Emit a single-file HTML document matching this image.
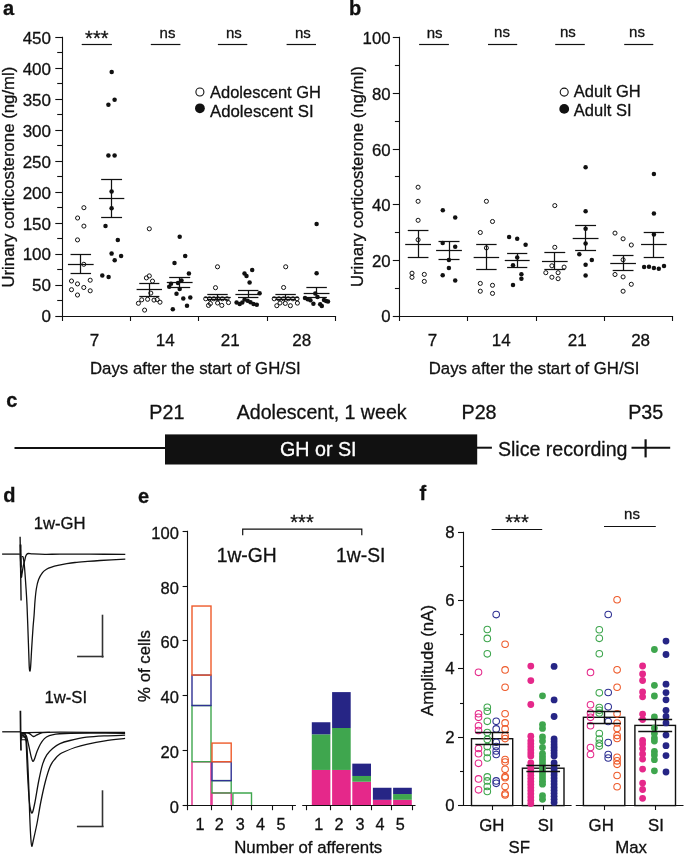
<!DOCTYPE html>
<html><head><meta charset="utf-8"><style>
html,body{margin:0;padding:0;background:#fff;}
svg{display:block;font-family:"Liberation Sans", sans-serif;will-change:transform;}
text{stroke-width:0.3px;}
</style></head><body>
<svg width="685" height="855" viewBox="0 0 685 855">
<rect width="685" height="855" fill="#fff"/>
<text x="3.00" y="14.80" font-size="20" text-anchor="start" font-weight="bold" fill="#111" stroke="#111">a</text>
<text x="349.00" y="14.90" font-size="20" text-anchor="start" font-weight="bold" fill="#111" stroke="#111">b</text>
<text x="6.30" y="407.00" font-size="20" text-anchor="start" font-weight="bold" fill="#111" stroke="#111">c</text>
<text x="3.20" y="502.20" font-size="20" text-anchor="start" font-weight="bold" fill="#111" stroke="#111">d</text>
<text x="138.00" y="502.80" font-size="20" text-anchor="start" font-weight="bold" fill="#111" stroke="#111">e</text>
<text x="419.60" y="499.80" font-size="20" text-anchor="start" font-weight="bold" fill="#111" stroke="#111">f</text>
<line x1="62.50" y1="36.80" x2="62.50" y2="317.00" stroke="#111" stroke-width="1.1"/>
<line x1="55.30" y1="316.50" x2="62.00" y2="316.50" stroke="#111" stroke-width="1.1"/>
<text x="51.00" y="322.20" font-size="17" text-anchor="end" font-weight="normal" fill="#111" stroke="#111">0</text>
<line x1="55.30" y1="285.50" x2="62.00" y2="285.50" stroke="#111" stroke-width="1.1"/>
<text x="51.00" y="291.33" font-size="17" text-anchor="end" font-weight="normal" fill="#111" stroke="#111">50</text>
<line x1="55.30" y1="254.50" x2="62.00" y2="254.50" stroke="#111" stroke-width="1.1"/>
<text x="51.00" y="260.46" font-size="17" text-anchor="end" font-weight="normal" fill="#111" stroke="#111">100</text>
<line x1="55.30" y1="223.50" x2="62.00" y2="223.50" stroke="#111" stroke-width="1.1"/>
<text x="51.00" y="229.59" font-size="17" text-anchor="end" font-weight="normal" fill="#111" stroke="#111">150</text>
<line x1="55.30" y1="192.50" x2="62.00" y2="192.50" stroke="#111" stroke-width="1.1"/>
<text x="51.00" y="198.72" font-size="17" text-anchor="end" font-weight="normal" fill="#111" stroke="#111">200</text>
<line x1="55.30" y1="161.50" x2="62.00" y2="161.50" stroke="#111" stroke-width="1.1"/>
<text x="51.00" y="167.85" font-size="17" text-anchor="end" font-weight="normal" fill="#111" stroke="#111">250</text>
<line x1="55.30" y1="130.50" x2="62.00" y2="130.50" stroke="#111" stroke-width="1.1"/>
<text x="51.00" y="136.98" font-size="17" text-anchor="end" font-weight="normal" fill="#111" stroke="#111">300</text>
<line x1="55.30" y1="99.50" x2="62.00" y2="99.50" stroke="#111" stroke-width="1.1"/>
<text x="51.00" y="106.11" font-size="17" text-anchor="end" font-weight="normal" fill="#111" stroke="#111">350</text>
<line x1="55.30" y1="68.50" x2="62.00" y2="68.50" stroke="#111" stroke-width="1.1"/>
<text x="51.00" y="75.24" font-size="17" text-anchor="end" font-weight="normal" fill="#111" stroke="#111">400</text>
<line x1="55.30" y1="37.50" x2="62.00" y2="37.50" stroke="#111" stroke-width="1.1"/>
<text x="51.00" y="44.37" font-size="17" text-anchor="end" font-weight="normal" fill="#111" stroke="#111">450</text>
<line x1="57.20" y1="300.50" x2="62.00" y2="300.50" stroke="#111" stroke-width="1.1"/>
<line x1="57.20" y1="269.50" x2="62.00" y2="269.50" stroke="#111" stroke-width="1.1"/>
<line x1="57.20" y1="238.50" x2="62.00" y2="238.50" stroke="#111" stroke-width="1.1"/>
<line x1="57.20" y1="207.50" x2="62.00" y2="207.50" stroke="#111" stroke-width="1.1"/>
<line x1="57.20" y1="176.50" x2="62.00" y2="176.50" stroke="#111" stroke-width="1.1"/>
<line x1="57.20" y1="145.50" x2="62.00" y2="145.50" stroke="#111" stroke-width="1.1"/>
<line x1="57.20" y1="114.50" x2="62.00" y2="114.50" stroke="#111" stroke-width="1.1"/>
<line x1="57.20" y1="83.50" x2="62.00" y2="83.50" stroke="#111" stroke-width="1.1"/>
<line x1="57.20" y1="52.50" x2="62.00" y2="52.50" stroke="#111" stroke-width="1.1"/>
<line x1="61.50" y1="316.50" x2="336.10" y2="316.50" stroke="#111" stroke-width="1.1"/>
<line x1="62.50" y1="316.50" x2="62.50" y2="321.00" stroke="#111" stroke-width="1.1"/>
<line x1="130.50" y1="316.50" x2="130.50" y2="321.00" stroke="#111" stroke-width="1.1"/>
<line x1="198.50" y1="316.50" x2="198.50" y2="321.00" stroke="#111" stroke-width="1.1"/>
<line x1="267.50" y1="316.50" x2="267.50" y2="321.00" stroke="#111" stroke-width="1.1"/>
<line x1="335.50" y1="316.50" x2="335.50" y2="321.00" stroke="#111" stroke-width="1.1"/>
<text x="94.60" y="346.40" font-size="17" text-anchor="middle" font-weight="normal" fill="#111" stroke="#111">7</text>
<text x="165.20" y="346.40" font-size="17" text-anchor="middle" font-weight="normal" fill="#111" stroke="#111">14</text>
<text x="230.20" y="346.40" font-size="17" text-anchor="middle" font-weight="normal" fill="#111" stroke="#111">21</text>
<text x="301.70" y="346.40" font-size="17" text-anchor="middle" font-weight="normal" fill="#111" stroke="#111">28</text>
<text x="90.00" y="374.00" font-size="16.8" text-anchor="start" font-weight="normal" fill="#111" stroke="#111">Days after the start of GH/SI</text>
<text transform="translate(13.60,177.10) rotate(-90)" x="0" y="0" font-size="16.8" text-anchor="middle" fill="#111" stroke="#111">Urinary corticosterone (ng/ml)</text>
<line x1="81.70" y1="44.50" x2="111.90" y2="44.50" stroke="#111" stroke-width="1.2"/>
<line x1="150.80" y1="44.50" x2="180.40" y2="44.50" stroke="#111" stroke-width="1.2"/>
<line x1="217.90" y1="44.50" x2="247.30" y2="44.50" stroke="#111" stroke-width="1.2"/>
<line x1="286.60" y1="44.50" x2="316.00" y2="44.50" stroke="#111" stroke-width="1.2"/>
<text x="96.80" y="44.60" font-size="20" text-anchor="middle" font-weight="normal" fill="#111" stroke="#111">***</text>
<text x="167.50" y="38.00" font-size="15" text-anchor="middle" font-weight="normal" fill="#111" stroke="#111">ns</text>
<text x="233.90" y="38.00" font-size="15" text-anchor="middle" font-weight="normal" fill="#111" stroke="#111">ns</text>
<text x="302.90" y="38.00" font-size="15" text-anchor="middle" font-weight="normal" fill="#111" stroke="#111">ns</text>
<circle cx="199.90" cy="92.00" r="4.0" fill="none" stroke="#111" stroke-width="1.1"/>
<circle cx="199.90" cy="108.30" r="4.9" fill="#111"/>
<text x="210.00" y="97.50" font-size="16.5" text-anchor="start" font-weight="normal" fill="#111" stroke="#111">Adolescent GH</text>
<text x="210.00" y="117.00" font-size="16.8" text-anchor="start" font-weight="normal" fill="#111" stroke="#111">Adolescent SI</text>
<circle cx="83.90" cy="207.70" r="2.05" fill="none" stroke="#111" stroke-width="1.0"/>
<circle cx="77.60" cy="218.00" r="2.05" fill="none" stroke="#111" stroke-width="1.0"/>
<circle cx="83.90" cy="226.10" r="2.05" fill="none" stroke="#111" stroke-width="1.0"/>
<circle cx="77.50" cy="239.90" r="2.05" fill="none" stroke="#111" stroke-width="1.0"/>
<circle cx="83.80" cy="264.30" r="2.05" fill="none" stroke="#111" stroke-width="1.0"/>
<circle cx="71.50" cy="281.00" r="2.05" fill="none" stroke="#111" stroke-width="1.0"/>
<circle cx="90.20" cy="280.20" r="2.05" fill="none" stroke="#111" stroke-width="1.0"/>
<circle cx="77.50" cy="283.90" r="2.05" fill="none" stroke="#111" stroke-width="1.0"/>
<circle cx="83.80" cy="287.50" r="2.05" fill="none" stroke="#111" stroke-width="1.0"/>
<circle cx="71.50" cy="289.70" r="2.05" fill="none" stroke="#111" stroke-width="1.0"/>
<circle cx="90.20" cy="290.80" r="2.05" fill="none" stroke="#111" stroke-width="1.0"/>
<circle cx="77.50" cy="295.00" r="2.05" fill="none" stroke="#111" stroke-width="1.0"/>
<circle cx="149.30" cy="228.80" r="2.05" fill="none" stroke="#111" stroke-width="1.0"/>
<circle cx="149.30" cy="275.90" r="2.05" fill="none" stroke="#111" stroke-width="1.0"/>
<circle cx="146.40" cy="277.90" r="2.05" fill="none" stroke="#111" stroke-width="1.0"/>
<circle cx="152.50" cy="281.10" r="2.05" fill="none" stroke="#111" stroke-width="1.0"/>
<circle cx="150.80" cy="293.10" r="2.05" fill="none" stroke="#111" stroke-width="1.0"/>
<circle cx="141.70" cy="299.80" r="2.05" fill="none" stroke="#111" stroke-width="1.0"/>
<circle cx="147.60" cy="299.30" r="2.05" fill="none" stroke="#111" stroke-width="1.0"/>
<circle cx="154.00" cy="300.10" r="2.05" fill="none" stroke="#111" stroke-width="1.0"/>
<circle cx="157.20" cy="299.50" r="2.05" fill="none" stroke="#111" stroke-width="1.0"/>
<circle cx="138.40" cy="303.30" r="2.05" fill="none" stroke="#111" stroke-width="1.0"/>
<circle cx="160.00" cy="302.20" r="2.05" fill="none" stroke="#111" stroke-width="1.0"/>
<circle cx="144.60" cy="310.10" r="2.05" fill="none" stroke="#111" stroke-width="1.0"/>
<circle cx="217.50" cy="266.80" r="2.05" fill="none" stroke="#111" stroke-width="1.0"/>
<circle cx="215.50" cy="287.70" r="2.05" fill="none" stroke="#111" stroke-width="1.0"/>
<circle cx="205.70" cy="298.80" r="2.05" fill="none" stroke="#111" stroke-width="1.0"/>
<circle cx="209.50" cy="298.80" r="2.05" fill="none" stroke="#111" stroke-width="1.0"/>
<circle cx="213.80" cy="298.80" r="2.05" fill="none" stroke="#111" stroke-width="1.0"/>
<circle cx="218.00" cy="298.80" r="2.05" fill="none" stroke="#111" stroke-width="1.0"/>
<circle cx="222.30" cy="298.80" r="2.05" fill="none" stroke="#111" stroke-width="1.0"/>
<circle cx="227.00" cy="298.80" r="2.05" fill="none" stroke="#111" stroke-width="1.0"/>
<circle cx="208.50" cy="305.40" r="2.05" fill="none" stroke="#111" stroke-width="1.0"/>
<circle cx="210.40" cy="303.50" r="2.05" fill="none" stroke="#111" stroke-width="1.0"/>
<circle cx="217.60" cy="303.00" r="2.05" fill="none" stroke="#111" stroke-width="1.0"/>
<circle cx="221.80" cy="305.40" r="2.05" fill="none" stroke="#111" stroke-width="1.0"/>
<circle cx="228.50" cy="302.60" r="2.05" fill="none" stroke="#111" stroke-width="1.0"/>
<circle cx="285.70" cy="266.80" r="2.05" fill="none" stroke="#111" stroke-width="1.0"/>
<circle cx="283.60" cy="287.50" r="2.05" fill="none" stroke="#111" stroke-width="1.0"/>
<circle cx="274.20" cy="298.80" r="2.05" fill="none" stroke="#111" stroke-width="1.0"/>
<circle cx="278.90" cy="298.80" r="2.05" fill="none" stroke="#111" stroke-width="1.0"/>
<circle cx="283.60" cy="298.80" r="2.05" fill="none" stroke="#111" stroke-width="1.0"/>
<circle cx="288.20" cy="298.80" r="2.05" fill="none" stroke="#111" stroke-width="1.0"/>
<circle cx="292.90" cy="298.80" r="2.05" fill="none" stroke="#111" stroke-width="1.0"/>
<circle cx="297.00" cy="298.80" r="2.05" fill="none" stroke="#111" stroke-width="1.0"/>
<circle cx="276.80" cy="305.70" r="2.05" fill="none" stroke="#111" stroke-width="1.0"/>
<circle cx="285.30" cy="303.40" r="2.05" fill="none" stroke="#111" stroke-width="1.0"/>
<circle cx="290.40" cy="305.70" r="2.05" fill="none" stroke="#111" stroke-width="1.0"/>
<circle cx="297.40" cy="303.10" r="2.05" fill="none" stroke="#111" stroke-width="1.0"/>
<circle cx="280.00" cy="303.00" r="2.05" fill="none" stroke="#111" stroke-width="1.0"/>
<circle cx="111.70" cy="72.00" r="2.25" fill="#111"/>
<circle cx="108.40" cy="104.70" r="2.25" fill="#111"/>
<circle cx="114.60" cy="99.70" r="2.25" fill="#111"/>
<circle cx="108.40" cy="155.60" r="2.25" fill="#111"/>
<circle cx="114.60" cy="155.60" r="2.25" fill="#111"/>
<circle cx="111.60" cy="191.50" r="2.25" fill="#111"/>
<circle cx="111.60" cy="208.30" r="2.25" fill="#111"/>
<circle cx="105.50" cy="225.90" r="2.25" fill="#111"/>
<circle cx="117.80" cy="240.10" r="2.25" fill="#111"/>
<circle cx="111.60" cy="253.60" r="2.25" fill="#111"/>
<circle cx="121.10" cy="256.10" r="2.25" fill="#111"/>
<circle cx="114.70" cy="260.20" r="2.25" fill="#111"/>
<circle cx="102.30" cy="275.40" r="2.25" fill="#111"/>
<circle cx="108.60" cy="276.90" r="2.25" fill="#111"/>
<circle cx="179.70" cy="236.70" r="2.25" fill="#111"/>
<circle cx="185.20" cy="255.90" r="2.25" fill="#111"/>
<circle cx="174.50" cy="263.00" r="2.25" fill="#111"/>
<circle cx="188.90" cy="273.50" r="2.25" fill="#111"/>
<circle cx="181.50" cy="280.60" r="2.25" fill="#111"/>
<circle cx="171.00" cy="283.70" r="2.25" fill="#111"/>
<circle cx="178.00" cy="282.90" r="2.25" fill="#111"/>
<circle cx="169.20" cy="286.70" r="2.25" fill="#111"/>
<circle cx="179.70" cy="289.00" r="2.25" fill="#111"/>
<circle cx="176.50" cy="293.70" r="2.25" fill="#111"/>
<circle cx="183.30" cy="298.40" r="2.25" fill="#111"/>
<circle cx="190.30" cy="297.50" r="2.25" fill="#111"/>
<circle cx="187.00" cy="305.70" r="2.25" fill="#111"/>
<circle cx="172.80" cy="309.20" r="2.25" fill="#111"/>
<circle cx="252.20" cy="269.90" r="2.25" fill="#111"/>
<circle cx="244.50" cy="273.50" r="2.25" fill="#111"/>
<circle cx="246.50" cy="276.00" r="2.25" fill="#111"/>
<circle cx="249.60" cy="282.50" r="2.25" fill="#111"/>
<circle cx="259.60" cy="293.20" r="2.25" fill="#111"/>
<circle cx="236.60" cy="302.40" r="2.25" fill="#111"/>
<circle cx="239.70" cy="304.00" r="2.25" fill="#111"/>
<circle cx="242.30" cy="302.60" r="2.25" fill="#111"/>
<circle cx="244.60" cy="299.50" r="2.25" fill="#111"/>
<circle cx="247.60" cy="300.80" r="2.25" fill="#111"/>
<circle cx="250.50" cy="302.30" r="2.25" fill="#111"/>
<circle cx="253.50" cy="304.00" r="2.25" fill="#111"/>
<circle cx="256.80" cy="304.80" r="2.25" fill="#111"/>
<circle cx="316.60" cy="224.10" r="2.25" fill="#111"/>
<circle cx="316.60" cy="273.30" r="2.25" fill="#111"/>
<circle cx="305.00" cy="298.10" r="2.25" fill="#111"/>
<circle cx="307.70" cy="299.20" r="2.25" fill="#111"/>
<circle cx="310.40" cy="300.30" r="2.25" fill="#111"/>
<circle cx="313.40" cy="303.80" r="2.25" fill="#111"/>
<circle cx="315.30" cy="293.50" r="2.25" fill="#111"/>
<circle cx="317.50" cy="297.00" r="2.25" fill="#111"/>
<circle cx="320.20" cy="304.30" r="2.25" fill="#111"/>
<circle cx="321.80" cy="306.00" r="2.25" fill="#111"/>
<circle cx="324.00" cy="300.00" r="2.25" fill="#111"/>
<circle cx="326.10" cy="301.10" r="2.25" fill="#111"/>
<circle cx="328.00" cy="301.40" r="2.25" fill="#111"/>
<line x1="67.95" y1="264.50" x2="93.65" y2="264.50" stroke="#111" stroke-width="1.25"/>
<line x1="70.55" y1="254.50" x2="91.05" y2="254.50" stroke="#111" stroke-width="1.25"/>
<line x1="70.55" y1="273.50" x2="91.05" y2="273.50" stroke="#111" stroke-width="1.25"/>
<line x1="80.50" y1="254.50" x2="80.50" y2="273.30" stroke="#111" stroke-width="1.25"/>
<line x1="98.90" y1="198.50" x2="124.30" y2="198.50" stroke="#111" stroke-width="1.25"/>
<line x1="101.15" y1="179.50" x2="122.05" y2="179.50" stroke="#111" stroke-width="1.25"/>
<line x1="101.15" y1="217.50" x2="122.05" y2="217.50" stroke="#111" stroke-width="1.25"/>
<line x1="111.50" y1="179.80" x2="111.50" y2="217.00" stroke="#111" stroke-width="1.25"/>
<line x1="136.60" y1="289.50" x2="162.00" y2="289.50" stroke="#111" stroke-width="1.25"/>
<line x1="139.25" y1="283.50" x2="159.35" y2="283.50" stroke="#111" stroke-width="1.25"/>
<line x1="139.25" y1="296.50" x2="159.35" y2="296.50" stroke="#111" stroke-width="1.25"/>
<line x1="149.50" y1="283.20" x2="149.50" y2="296.00" stroke="#111" stroke-width="1.25"/>
<line x1="166.80" y1="282.50" x2="192.60" y2="282.50" stroke="#111" stroke-width="1.25"/>
<line x1="169.20" y1="277.50" x2="190.20" y2="277.50" stroke="#111" stroke-width="1.25"/>
<line x1="169.20" y1="287.50" x2="190.20" y2="287.50" stroke="#111" stroke-width="1.25"/>
<line x1="179.50" y1="277.30" x2="179.50" y2="287.80" stroke="#111" stroke-width="1.25"/>
<line x1="204.25" y1="297.50" x2="230.75" y2="297.50" stroke="#111" stroke-width="1.25"/>
<line x1="207.30" y1="294.50" x2="227.70" y2="294.50" stroke="#111" stroke-width="1.25"/>
<line x1="207.30" y1="299.50" x2="227.70" y2="299.50" stroke="#111" stroke-width="1.25"/>
<line x1="217.50" y1="294.20" x2="217.50" y2="299.80" stroke="#111" stroke-width="1.25"/>
<line x1="235.40" y1="294.50" x2="261.00" y2="294.50" stroke="#111" stroke-width="1.25"/>
<line x1="238.00" y1="290.50" x2="258.40" y2="290.50" stroke="#111" stroke-width="1.25"/>
<line x1="238.00" y1="297.50" x2="258.40" y2="297.50" stroke="#111" stroke-width="1.25"/>
<line x1="248.50" y1="290.60" x2="248.50" y2="297.50" stroke="#111" stroke-width="1.25"/>
<line x1="272.40" y1="297.50" x2="298.80" y2="297.50" stroke="#111" stroke-width="1.25"/>
<line x1="275.40" y1="294.50" x2="295.80" y2="294.50" stroke="#111" stroke-width="1.25"/>
<line x1="275.40" y1="299.50" x2="295.80" y2="299.50" stroke="#111" stroke-width="1.25"/>
<line x1="285.50" y1="294.30" x2="285.50" y2="299.90" stroke="#111" stroke-width="1.25"/>
<line x1="303.70" y1="293.50" x2="329.50" y2="293.50" stroke="#111" stroke-width="1.25"/>
<line x1="306.35" y1="287.50" x2="326.85" y2="287.50" stroke="#111" stroke-width="1.25"/>
<line x1="306.35" y1="297.50" x2="326.85" y2="297.50" stroke="#111" stroke-width="1.25"/>
<line x1="316.50" y1="287.70" x2="316.50" y2="297.90" stroke="#111" stroke-width="1.25"/>
<line x1="399.50" y1="36.80" x2="399.50" y2="317.10" stroke="#111" stroke-width="1.1"/>
<line x1="392.80" y1="316.50" x2="399.60" y2="316.50" stroke="#111" stroke-width="1.1"/>
<text x="390.60" y="322.20" font-size="16.8" text-anchor="end" font-weight="normal" fill="#111" stroke="#111">0</text>
<line x1="392.80" y1="260.50" x2="399.60" y2="260.50" stroke="#111" stroke-width="1.1"/>
<text x="390.60" y="266.64" font-size="16.8" text-anchor="end" font-weight="normal" fill="#111" stroke="#111">20</text>
<line x1="392.80" y1="204.50" x2="399.60" y2="204.50" stroke="#111" stroke-width="1.1"/>
<text x="390.60" y="211.08" font-size="16.8" text-anchor="end" font-weight="normal" fill="#111" stroke="#111">40</text>
<line x1="392.80" y1="149.50" x2="399.60" y2="149.50" stroke="#111" stroke-width="1.1"/>
<text x="390.60" y="155.52" font-size="16.8" text-anchor="end" font-weight="normal" fill="#111" stroke="#111">60</text>
<line x1="392.80" y1="93.50" x2="399.60" y2="93.50" stroke="#111" stroke-width="1.1"/>
<text x="390.60" y="99.96" font-size="16.8" text-anchor="end" font-weight="normal" fill="#111" stroke="#111">80</text>
<line x1="392.80" y1="37.50" x2="399.60" y2="37.50" stroke="#111" stroke-width="1.1"/>
<text x="390.60" y="44.40" font-size="16.8" text-anchor="end" font-weight="normal" fill="#111" stroke="#111">100</text>
<line x1="394.90" y1="288.50" x2="399.60" y2="288.50" stroke="#111" stroke-width="1.1"/>
<line x1="394.90" y1="232.50" x2="399.60" y2="232.50" stroke="#111" stroke-width="1.1"/>
<line x1="394.90" y1="176.50" x2="399.60" y2="176.50" stroke="#111" stroke-width="1.1"/>
<line x1="394.90" y1="121.50" x2="399.60" y2="121.50" stroke="#111" stroke-width="1.1"/>
<line x1="394.90" y1="65.50" x2="399.60" y2="65.50" stroke="#111" stroke-width="1.1"/>
<line x1="399.10" y1="316.50" x2="673.10" y2="316.50" stroke="#111" stroke-width="1.1"/>
<line x1="399.50" y1="316.60" x2="399.50" y2="321.00" stroke="#111" stroke-width="1.1"/>
<line x1="467.50" y1="316.60" x2="467.50" y2="321.00" stroke="#111" stroke-width="1.1"/>
<line x1="536.50" y1="316.60" x2="536.50" y2="321.00" stroke="#111" stroke-width="1.1"/>
<line x1="604.50" y1="316.60" x2="604.50" y2="321.00" stroke="#111" stroke-width="1.1"/>
<line x1="672.50" y1="316.60" x2="672.50" y2="321.00" stroke="#111" stroke-width="1.1"/>
<text x="432.50" y="346.40" font-size="17" text-anchor="middle" font-weight="normal" fill="#111" stroke="#111">7</text>
<text x="501.30" y="346.40" font-size="17" text-anchor="middle" font-weight="normal" fill="#111" stroke="#111">14</text>
<text x="577.30" y="346.40" font-size="17" text-anchor="middle" font-weight="normal" fill="#111" stroke="#111">21</text>
<text x="640.60" y="346.40" font-size="17" text-anchor="middle" font-weight="normal" fill="#111" stroke="#111">28</text>
<text x="428.70" y="373.80" font-size="16.8" text-anchor="start" font-weight="normal" fill="#111" stroke="#111">Days after the start of GH/SI</text>
<text transform="translate(363.00,176.60) rotate(-90)" x="0" y="0" font-size="16.8" text-anchor="middle" fill="#111" stroke="#111">Urinary corticosterone (ng/ml)</text>
<line x1="419.10" y1="44.50" x2="448.90" y2="44.50" stroke="#111" stroke-width="1.2"/>
<line x1="488.00" y1="44.50" x2="517.20" y2="44.50" stroke="#111" stroke-width="1.2"/>
<line x1="555.20" y1="44.50" x2="584.80" y2="44.50" stroke="#111" stroke-width="1.2"/>
<line x1="624.20" y1="44.50" x2="653.30" y2="44.50" stroke="#111" stroke-width="1.2"/>
<text x="434.70" y="37.70" font-size="15" text-anchor="middle" font-weight="normal" fill="#111" stroke="#111">ns</text>
<text x="502.00" y="36.80" font-size="15" text-anchor="middle" font-weight="normal" fill="#111" stroke="#111">ns</text>
<text x="567.80" y="36.80" font-size="15" text-anchor="middle" font-weight="normal" fill="#111" stroke="#111">ns</text>
<text x="637.00" y="36.80" font-size="15" text-anchor="middle" font-weight="normal" fill="#111" stroke="#111">ns</text>
<circle cx="564.20" cy="92.10" r="4.0" fill="none" stroke="#111" stroke-width="1.1"/>
<circle cx="564.20" cy="108.90" r="4.9" fill="#111"/>
<text x="573.80" y="97.30" font-size="16.5" text-anchor="start" font-weight="normal" fill="#111" stroke="#111">Adult GH</text>
<text x="573.80" y="116.40" font-size="16.5" text-anchor="start" font-weight="normal" fill="#111" stroke="#111">Adult SI</text>
<circle cx="418.10" cy="187.20" r="2.05" fill="none" stroke="#111" stroke-width="1.0"/>
<circle cx="418.10" cy="201.30" r="2.05" fill="none" stroke="#111" stroke-width="1.0"/>
<circle cx="418.10" cy="220.30" r="2.05" fill="none" stroke="#111" stroke-width="1.0"/>
<circle cx="418.10" cy="239.80" r="2.05" fill="none" stroke="#111" stroke-width="1.0"/>
<circle cx="412.00" cy="273.20" r="2.05" fill="none" stroke="#111" stroke-width="1.0"/>
<circle cx="412.00" cy="277.30" r="2.05" fill="none" stroke="#111" stroke-width="1.0"/>
<circle cx="424.30" cy="274.40" r="2.05" fill="none" stroke="#111" stroke-width="1.0"/>
<circle cx="424.30" cy="281.40" r="2.05" fill="none" stroke="#111" stroke-width="1.0"/>
<circle cx="486.40" cy="201.30" r="2.05" fill="none" stroke="#111" stroke-width="1.0"/>
<circle cx="492.50" cy="221.50" r="2.05" fill="none" stroke="#111" stroke-width="1.0"/>
<circle cx="480.30" cy="232.50" r="2.05" fill="none" stroke="#111" stroke-width="1.0"/>
<circle cx="486.40" cy="247.90" r="2.05" fill="none" stroke="#111" stroke-width="1.0"/>
<circle cx="480.30" cy="283.40" r="2.05" fill="none" stroke="#111" stroke-width="1.0"/>
<circle cx="492.50" cy="285.30" r="2.05" fill="none" stroke="#111" stroke-width="1.0"/>
<circle cx="480.30" cy="291.20" r="2.05" fill="none" stroke="#111" stroke-width="1.0"/>
<circle cx="492.50" cy="293.40" r="2.05" fill="none" stroke="#111" stroke-width="1.0"/>
<circle cx="554.80" cy="205.60" r="2.05" fill="none" stroke="#111" stroke-width="1.0"/>
<circle cx="554.80" cy="247.30" r="2.05" fill="none" stroke="#111" stroke-width="1.0"/>
<circle cx="551.90" cy="265.80" r="2.05" fill="none" stroke="#111" stroke-width="1.0"/>
<circle cx="564.10" cy="267.10" r="2.05" fill="none" stroke="#111" stroke-width="1.0"/>
<circle cx="545.80" cy="272.70" r="2.05" fill="none" stroke="#111" stroke-width="1.0"/>
<circle cx="558.10" cy="272.70" r="2.05" fill="none" stroke="#111" stroke-width="1.0"/>
<circle cx="551.90" cy="277.20" r="2.05" fill="none" stroke="#111" stroke-width="1.0"/>
<circle cx="558.10" cy="278.70" r="2.05" fill="none" stroke="#111" stroke-width="1.0"/>
<circle cx="615.00" cy="233.10" r="2.05" fill="none" stroke="#111" stroke-width="1.0"/>
<circle cx="623.10" cy="238.80" r="2.05" fill="none" stroke="#111" stroke-width="1.0"/>
<circle cx="631.30" cy="245.00" r="2.05" fill="none" stroke="#111" stroke-width="1.0"/>
<circle cx="623.10" cy="259.80" r="2.05" fill="none" stroke="#111" stroke-width="1.0"/>
<circle cx="615.00" cy="274.50" r="2.05" fill="none" stroke="#111" stroke-width="1.0"/>
<circle cx="623.10" cy="276.90" r="2.05" fill="none" stroke="#111" stroke-width="1.0"/>
<circle cx="631.30" cy="284.30" r="2.05" fill="none" stroke="#111" stroke-width="1.0"/>
<circle cx="623.10" cy="291.20" r="2.05" fill="none" stroke="#111" stroke-width="1.0"/>
<circle cx="442.80" cy="210.20" r="2.25" fill="#111"/>
<circle cx="455.20" cy="217.40" r="2.25" fill="#111"/>
<circle cx="442.70" cy="243.10" r="2.25" fill="#111"/>
<circle cx="455.20" cy="246.70" r="2.25" fill="#111"/>
<circle cx="448.90" cy="260.10" r="2.25" fill="#111"/>
<circle cx="448.90" cy="268.10" r="2.25" fill="#111"/>
<circle cx="442.70" cy="275.30" r="2.25" fill="#111"/>
<circle cx="455.20" cy="280.40" r="2.25" fill="#111"/>
<circle cx="509.10" cy="237.00" r="2.25" fill="#111"/>
<circle cx="517.20" cy="238.80" r="2.25" fill="#111"/>
<circle cx="525.60" cy="244.80" r="2.25" fill="#111"/>
<circle cx="517.20" cy="257.50" r="2.25" fill="#111"/>
<circle cx="513.00" cy="265.20" r="2.25" fill="#111"/>
<circle cx="521.40" cy="274.30" r="2.25" fill="#111"/>
<circle cx="521.40" cy="278.70" r="2.25" fill="#111"/>
<circle cx="513.00" cy="285.00" r="2.25" fill="#111"/>
<circle cx="585.60" cy="167.20" r="2.25" fill="#111"/>
<circle cx="585.60" cy="211.30" r="2.25" fill="#111"/>
<circle cx="585.60" cy="228.80" r="2.25" fill="#111"/>
<circle cx="585.60" cy="243.50" r="2.25" fill="#111"/>
<circle cx="579.30" cy="254.30" r="2.25" fill="#111"/>
<circle cx="591.80" cy="260.10" r="2.25" fill="#111"/>
<circle cx="585.60" cy="264.80" r="2.25" fill="#111"/>
<circle cx="585.60" cy="275.60" r="2.25" fill="#111"/>
<circle cx="653.90" cy="173.90" r="2.25" fill="#111"/>
<circle cx="653.90" cy="213.60" r="2.25" fill="#111"/>
<circle cx="653.90" cy="234.40" r="2.25" fill="#111"/>
<circle cx="644.10" cy="267.10" r="2.25" fill="#111"/>
<circle cx="649.00" cy="266.80" r="2.25" fill="#111"/>
<circle cx="653.90" cy="268.00" r="2.25" fill="#111"/>
<circle cx="658.80" cy="268.80" r="2.25" fill="#111"/>
<circle cx="664.00" cy="266.00" r="2.25" fill="#111"/>
<line x1="405.20" y1="244.50" x2="431.00" y2="244.50" stroke="#111" stroke-width="1.25"/>
<line x1="407.75" y1="230.50" x2="428.45" y2="230.50" stroke="#111" stroke-width="1.25"/>
<line x1="407.75" y1="257.50" x2="428.45" y2="257.50" stroke="#111" stroke-width="1.25"/>
<line x1="418.50" y1="230.90" x2="418.50" y2="257.90" stroke="#111" stroke-width="1.25"/>
<line x1="436.10" y1="250.50" x2="461.90" y2="250.50" stroke="#111" stroke-width="1.25"/>
<line x1="438.50" y1="241.50" x2="459.50" y2="241.50" stroke="#111" stroke-width="1.25"/>
<line x1="438.50" y1="259.50" x2="459.50" y2="259.50" stroke="#111" stroke-width="1.25"/>
<line x1="449.50" y1="241.00" x2="449.50" y2="259.50" stroke="#111" stroke-width="1.25"/>
<line x1="473.65" y1="257.50" x2="499.15" y2="257.50" stroke="#111" stroke-width="1.25"/>
<line x1="476.20" y1="244.50" x2="496.60" y2="244.50" stroke="#111" stroke-width="1.25"/>
<line x1="476.20" y1="269.50" x2="496.60" y2="269.50" stroke="#111" stroke-width="1.25"/>
<line x1="486.50" y1="244.40" x2="486.50" y2="269.80" stroke="#111" stroke-width="1.25"/>
<line x1="504.75" y1="260.50" x2="529.65" y2="260.50" stroke="#111" stroke-width="1.25"/>
<line x1="507.10" y1="253.50" x2="527.30" y2="253.50" stroke="#111" stroke-width="1.25"/>
<line x1="507.10" y1="267.50" x2="527.30" y2="267.50" stroke="#111" stroke-width="1.25"/>
<line x1="517.50" y1="253.40" x2="517.50" y2="267.30" stroke="#111" stroke-width="1.25"/>
<line x1="541.95" y1="261.50" x2="567.65" y2="261.50" stroke="#111" stroke-width="1.25"/>
<line x1="544.35" y1="252.50" x2="565.25" y2="252.50" stroke="#111" stroke-width="1.25"/>
<line x1="544.35" y1="269.50" x2="565.25" y2="269.50" stroke="#111" stroke-width="1.25"/>
<line x1="554.50" y1="252.60" x2="554.50" y2="269.70" stroke="#111" stroke-width="1.25"/>
<line x1="572.70" y1="238.50" x2="598.50" y2="238.50" stroke="#111" stroke-width="1.25"/>
<line x1="575.15" y1="225.50" x2="596.05" y2="225.50" stroke="#111" stroke-width="1.25"/>
<line x1="575.15" y1="250.50" x2="596.05" y2="250.50" stroke="#111" stroke-width="1.25"/>
<line x1="585.50" y1="225.70" x2="585.50" y2="250.60" stroke="#111" stroke-width="1.25"/>
<line x1="610.25" y1="263.50" x2="635.95" y2="263.50" stroke="#111" stroke-width="1.25"/>
<line x1="612.70" y1="255.50" x2="633.50" y2="255.50" stroke="#111" stroke-width="1.25"/>
<line x1="612.70" y1="270.50" x2="633.50" y2="270.50" stroke="#111" stroke-width="1.25"/>
<line x1="623.50" y1="255.20" x2="623.50" y2="270.90" stroke="#111" stroke-width="1.25"/>
<line x1="641.05" y1="244.50" x2="666.75" y2="244.50" stroke="#111" stroke-width="1.25"/>
<line x1="643.70" y1="232.50" x2="664.10" y2="232.50" stroke="#111" stroke-width="1.25"/>
<line x1="643.70" y1="257.50" x2="664.10" y2="257.50" stroke="#111" stroke-width="1.25"/>
<line x1="653.50" y1="232.00" x2="653.50" y2="257.50" stroke="#111" stroke-width="1.25"/>
<line x1="14.50" y1="448.00" x2="165.50" y2="448.00" stroke="#111" stroke-width="2.0"/>
<rect x="165" y="434.4" width="312.2" height="30.1" fill="#111"/>
<line x1="477.00" y1="447.70" x2="491.90" y2="447.70" stroke="#111" stroke-width="2.0"/>
<line x1="631.50" y1="447.70" x2="670.20" y2="447.70" stroke="#111" stroke-width="2.0"/>
<line x1="645.60" y1="439.30" x2="645.60" y2="457.40" stroke="#111" stroke-width="2.2"/>
<text x="149.30" y="419.20" font-size="19.7" text-anchor="start" font-weight="normal" fill="#111" stroke="#111">P21</text>
<text x="236.70" y="419.20" font-size="19.6" text-anchor="start" font-weight="normal" fill="#111" stroke="#111">Adolescent, 1 week</text>
<text x="461.50" y="419.40" font-size="19.7" text-anchor="start" font-weight="normal" fill="#111" stroke="#111">P28</text>
<text x="628.20" y="419.40" font-size="19.7" text-anchor="start" font-weight="normal" fill="#111" stroke="#111">P35</text>
<text x="280.00" y="456.00" font-size="19.7" text-anchor="start" font-weight="normal" fill="#fff" stroke="#fff">GH or SI</text>
<text x="497.90" y="455.70" font-size="19.6" text-anchor="start" font-weight="normal" fill="#111" stroke="#111">Slice recording</text>
<text x="33.70" y="528.50" font-size="16.7" text-anchor="start" font-weight="normal" fill="#111" stroke="#111">1w-GH</text>
<text x="44.40" y="702.50" font-size="16.7" text-anchor="start" font-weight="normal" fill="#111" stroke="#111">1w-SI</text>
<path d="M2.10,554.10 C5.05,554.10 16.85,554.10 19.80,554.10" fill="none" stroke="#111" stroke-width="1.3" stroke-linejoin="round"/>
<path d="M20.1,536.7 L20.4,556 L21.1,600.6" fill="none" stroke="#111" stroke-width="1.35"/>
<line x1="20.50" y1="544.50" x2="20.90" y2="567.40" stroke="#111" stroke-width="1.9"/>
<path d="M20.40,554.00 C20.48,556.33 20.73,564.17 20.90,568.00 C21.07,571.83 21.22,576.00 21.40,577.00 C21.58,578.00 21.70,575.75 22.00,574.00 C22.30,572.25 22.73,568.83 23.20,566.50 C23.67,564.17 24.38,561.70 24.80,560.00 C25.22,558.30 25.37,557.27 25.70,556.30 C26.03,555.33 26.33,554.67 26.80,554.20 C27.27,553.73 27.47,553.55 28.50,553.50 C29.53,553.45 30.25,553.77 33.00,553.90 C35.75,554.03 40.50,554.25 45.00,554.30 C49.50,554.35 52.50,554.22 60.00,554.20 C67.50,554.18 79.12,554.18 90.00,554.20 C100.88,554.22 119.42,554.28 125.30,554.30" fill="none" stroke="#111" stroke-width="1.3" stroke-linejoin="round"/>
<path d="M21.80,556.00 C22.03,556.25 22.77,555.83 23.20,557.50 C23.63,559.17 23.97,561.42 24.40,566.00 C24.83,570.58 25.37,578.50 25.80,585.00 C26.23,591.50 26.58,595.83 27.00,605.00 C27.42,614.17 27.93,629.83 28.30,640.00 C28.67,650.17 28.95,660.83 29.20,666.00 C29.45,671.17 29.57,670.83 29.80,671.00 C30.03,671.17 30.28,670.83 30.60,667.00 C30.92,663.17 31.30,654.50 31.70,648.00 C32.10,641.50 32.60,633.50 33.00,628.00 C33.40,622.50 33.77,619.50 34.10,615.00 C34.43,610.50 34.62,605.42 35.00,601.00 C35.38,596.58 35.80,592.08 36.40,588.50 C37.00,584.92 37.58,582.15 38.60,579.50 C39.62,576.85 41.18,574.32 42.50,572.60 C43.82,570.88 44.98,570.12 46.50,569.20 C48.02,568.28 49.48,567.77 51.60,567.10 C53.72,566.43 56.67,565.77 59.20,565.20 C61.73,564.63 64.17,564.15 66.80,563.70 C69.43,563.25 71.97,562.85 75.00,562.50 C78.03,562.15 80.83,561.93 85.00,561.60 C89.17,561.27 93.28,560.90 100.00,560.50 C106.72,560.10 121.08,559.42 125.30,559.20" fill="none" stroke="#111" stroke-width="1.3" stroke-linejoin="round"/>
<line x1="102.50" y1="614.70" x2="102.50" y2="657.60" stroke="#333" stroke-width="1.6"/>
<line x1="77.10" y1="656.50" x2="103.60" y2="656.50" stroke="#333" stroke-width="1.6"/>
<path d="M2.20,731.80 C5.17,731.80 17.03,731.80 20.00,731.80" fill="none" stroke="#111" stroke-width="1.3" stroke-linejoin="round"/>
<path d="M20.4,710.7 L20.6,731 L21.0,750.4" fill="none" stroke="#111" stroke-width="1.7"/>
<path d="M21.2,733.6 H25.2 M21.2,737.0 H25.6 M21.2,739.8 H25.8 M21.6,732.8 V740.6 M25.3,733.4 V740.5" fill="none" stroke="#111" stroke-width="1.1"/>
<path d="M21.00,732.50 C21.83,732.52 22.83,732.62 26.00,732.60 C29.17,732.58 34.33,732.47 40.00,732.40 C45.67,732.33 51.67,732.22 60.00,732.20 C68.33,732.18 79.15,732.25 90.00,732.30 C100.85,732.35 119.25,732.47 125.10,732.50" fill="none" stroke="#111" stroke-width="1.3" stroke-linejoin="round"/>
<path d="M24.00,733.50 C24.40,733.40 25.47,732.88 26.40,732.90 C27.33,732.92 28.45,733.00 29.60,733.60 C30.75,734.20 32.07,736.28 33.30,736.50 C34.53,736.72 35.43,735.55 37.00,734.90 C38.57,734.25 40.53,733.03 42.70,732.60 C44.87,732.17 48.78,732.35 50.00,732.30" fill="none" stroke="#111" stroke-width="1.3" stroke-linejoin="round"/>
<path d="M22.00,734.00 C22.42,734.03 23.77,733.85 24.50,734.20 C25.23,734.55 25.68,734.15 26.40,736.10 C27.12,738.05 27.98,742.35 28.80,745.90 C29.62,749.45 30.62,754.83 31.30,757.40 C31.98,759.97 32.37,761.03 32.90,761.30 C33.43,761.57 33.82,760.62 34.50,759.00 C35.18,757.38 36.03,754.05 37.00,751.60 C37.97,749.15 39.07,746.47 40.30,744.30 C41.53,742.13 42.90,740.03 44.40,738.60 C45.90,737.17 47.40,736.45 49.30,735.70 C51.20,734.95 53.18,734.47 55.80,734.10 C58.42,733.73 59.30,733.65 65.00,733.50 C70.70,733.35 79.98,733.23 90.00,733.20 C100.02,733.17 119.25,733.28 125.10,733.30" fill="none" stroke="#111" stroke-width="1.3" stroke-linejoin="round"/>
<path d="M22.00,735.00 C22.42,735.17 23.83,735.00 24.50,736.00 C25.17,737.00 25.48,734.50 26.00,741.00 C26.52,747.50 27.07,765.17 27.60,775.00 C28.13,784.83 28.70,794.17 29.20,800.00 C29.70,805.83 30.07,807.90 30.60,810.00 C31.13,812.10 31.67,813.93 32.40,812.60 C33.13,811.27 33.95,807.27 35.00,802.00 C36.05,796.73 37.42,787.35 38.70,781.00 C39.98,774.65 41.35,768.25 42.70,763.90 C44.05,759.55 45.15,757.48 46.80,754.90 C48.45,752.32 50.40,750.28 52.60,748.40 C54.80,746.52 57.10,744.92 60.00,743.60 C62.90,742.28 65.57,741.57 70.00,740.50 C74.43,739.43 80.77,737.98 86.60,737.20 C92.43,736.42 98.58,736.13 105.00,735.80 C111.42,735.47 121.75,735.30 125.10,735.20" fill="none" stroke="#111" stroke-width="1.3" stroke-linejoin="round"/>
<path d="M22.00,735.50 C22.43,735.75 23.83,735.92 24.60,737.00 C25.37,738.08 25.95,734.83 26.60,742.00 C27.25,749.17 27.98,767.83 28.50,780.00 C29.02,792.17 29.32,805.33 29.70,815.00 C30.08,824.67 30.45,832.78 30.80,838.00 C31.15,843.22 31.37,845.97 31.80,846.30 C32.23,846.63 32.52,843.88 33.40,840.00 C34.28,836.12 35.87,829.33 37.10,823.00 C38.33,816.67 39.40,809.00 40.80,802.00 C42.20,795.00 43.95,786.93 45.50,781.00 C47.05,775.07 48.52,770.07 50.10,766.40 C51.68,762.73 53.35,761.05 55.00,759.00 C56.65,756.95 58.33,755.35 60.00,754.10 C61.67,752.85 62.50,752.60 65.00,751.50 C67.50,750.40 71.40,748.70 75.00,747.50 C78.60,746.30 81.60,745.42 86.60,744.30 C91.60,743.18 98.58,741.78 105.00,740.80 C111.42,739.82 121.75,738.80 125.10,738.40" fill="none" stroke="#111" stroke-width="1.3" stroke-linejoin="round"/>
<line x1="102.50" y1="790.30" x2="102.50" y2="826.90" stroke="#333" stroke-width="1.6"/>
<line x1="76.90" y1="826.50" x2="103.60" y2="826.50" stroke="#333" stroke-width="1.6"/>
<path d="M192.00,805.30 V761.72 H211.00 V805.30" fill="none" stroke="#e5288a" stroke-width="1.4"/>
<rect x="192.00" y="705.53" width="19.00" height="56.19" fill="none" stroke="#3fa64e" stroke-width="1.4"/>
<rect x="192.00" y="675.10" width="19.00" height="30.43" fill="none" stroke="#2f3193" stroke-width="1.4"/>
<rect x="192.00" y="606.03" width="19.00" height="69.07" fill="none" stroke="#ee5a2a" stroke-width="1.4"/>
<path d="M212.00,805.30 V792.97 H231.20 V805.30" fill="none" stroke="#e5288a" stroke-width="1.4"/>
<rect x="212.00" y="780.63" width="19.20" height="12.33" fill="none" stroke="#3fa64e" stroke-width="1.4"/>
<rect x="212.00" y="761.72" width="19.20" height="18.91" fill="none" stroke="#2f3193" stroke-width="1.4"/>
<rect x="212.00" y="743.08" width="19.20" height="18.64" fill="none" stroke="#ee5a2a" stroke-width="1.4"/>
<path d="M232.90,805.30 V792.97 H251.50 V805.30" fill="none" stroke="#3fa64e" stroke-width="1.4"/>
<rect x="311.80" y="769.94" width="18.60" height="35.36" fill="#e5288a"/>
<rect x="311.80" y="734.31" width="18.60" height="35.63" fill="#3fa64e"/>
<rect x="311.80" y="722.25" width="18.60" height="12.06" fill="#262585"/>
<rect x="332.10" y="769.94" width="18.60" height="35.36" fill="#e5288a"/>
<rect x="332.10" y="728.00" width="18.60" height="41.94" fill="#3fa64e"/>
<rect x="332.10" y="692.10" width="18.60" height="35.91" fill="#262585"/>
<rect x="352.30" y="781.73" width="18.70" height="23.57" fill="#e5288a"/>
<rect x="352.30" y="775.97" width="18.70" height="5.76" fill="#3fa64e"/>
<rect x="352.30" y="763.64" width="18.70" height="12.33" fill="#262585"/>
<rect x="372.90" y="799.82" width="18.60" height="5.48" fill="#e5288a"/>
<rect x="372.90" y="787.76" width="18.60" height="12.06" fill="#262585"/>
<rect x="393.10" y="799.82" width="18.70" height="5.48" fill="#e5288a"/>
<rect x="393.10" y="794.06" width="18.70" height="5.76" fill="#3fa64e"/>
<rect x="393.10" y="787.76" width="18.70" height="6.30" fill="#262585"/>
<line x1="187.50" y1="530.70" x2="187.50" y2="805.80" stroke="#111" stroke-width="1.1"/>
<line x1="182.60" y1="805.50" x2="187.30" y2="805.50" stroke="#111" stroke-width="1.1"/>
<text x="178.90" y="812.90" font-size="16.5" text-anchor="end" font-weight="normal" fill="#111" stroke="#111">0</text>
<line x1="182.60" y1="750.50" x2="187.30" y2="750.50" stroke="#111" stroke-width="1.1"/>
<text x="178.90" y="758.08" font-size="16.5" text-anchor="end" font-weight="normal" fill="#111" stroke="#111">20</text>
<line x1="182.60" y1="695.50" x2="187.30" y2="695.50" stroke="#111" stroke-width="1.1"/>
<text x="178.90" y="703.26" font-size="16.5" text-anchor="end" font-weight="normal" fill="#111" stroke="#111">40</text>
<line x1="182.60" y1="640.50" x2="187.30" y2="640.50" stroke="#111" stroke-width="1.1"/>
<text x="178.90" y="648.44" font-size="16.5" text-anchor="end" font-weight="normal" fill="#111" stroke="#111">60</text>
<line x1="182.60" y1="586.50" x2="187.30" y2="586.50" stroke="#111" stroke-width="1.1"/>
<text x="178.90" y="593.62" font-size="16.5" text-anchor="end" font-weight="normal" fill="#111" stroke="#111">80</text>
<line x1="182.60" y1="531.50" x2="187.30" y2="531.50" stroke="#111" stroke-width="1.1"/>
<text x="178.90" y="538.80" font-size="16.5" text-anchor="end" font-weight="normal" fill="#111" stroke="#111">100</text>
<line x1="186.80" y1="805.50" x2="295.90" y2="805.50" stroke="#111" stroke-width="1.1"/>
<line x1="187.50" y1="805.30" x2="187.50" y2="810.20" stroke="#111" stroke-width="1.1"/>
<line x1="211.50" y1="805.30" x2="211.50" y2="810.20" stroke="#111" stroke-width="1.1"/>
<line x1="231.50" y1="805.30" x2="231.50" y2="810.20" stroke="#111" stroke-width="1.1"/>
<line x1="251.50" y1="805.30" x2="251.50" y2="810.20" stroke="#111" stroke-width="1.1"/>
<line x1="272.50" y1="805.30" x2="272.50" y2="810.20" stroke="#111" stroke-width="1.1"/>
<line x1="292.50" y1="805.30" x2="292.50" y2="810.20" stroke="#111" stroke-width="1.1"/>
<line x1="302.20" y1="805.50" x2="415.50" y2="805.50" stroke="#111" stroke-width="1.1"/>
<line x1="306.50" y1="805.30" x2="306.50" y2="810.20" stroke="#111" stroke-width="1.1"/>
<line x1="330.50" y1="805.30" x2="330.50" y2="810.20" stroke="#111" stroke-width="1.1"/>
<line x1="350.50" y1="805.30" x2="350.50" y2="810.20" stroke="#111" stroke-width="1.1"/>
<line x1="371.50" y1="805.30" x2="371.50" y2="810.20" stroke="#111" stroke-width="1.1"/>
<line x1="391.50" y1="805.30" x2="391.50" y2="810.20" stroke="#111" stroke-width="1.1"/>
<line x1="412.50" y1="805.30" x2="412.50" y2="810.20" stroke="#111" stroke-width="1.1"/>
<text x="199.90" y="830.20" font-size="16.2" text-anchor="middle" font-weight="normal" fill="#111" stroke="#111">1</text>
<text x="219.30" y="830.20" font-size="16.2" text-anchor="middle" font-weight="normal" fill="#111" stroke="#111">2</text>
<text x="240.30" y="830.20" font-size="16.2" text-anchor="middle" font-weight="normal" fill="#111" stroke="#111">3</text>
<text x="260.60" y="830.20" font-size="16.2" text-anchor="middle" font-weight="normal" fill="#111" stroke="#111">4</text>
<text x="281.00" y="830.20" font-size="16.2" text-anchor="middle" font-weight="normal" fill="#111" stroke="#111">5</text>
<text x="318.70" y="830.20" font-size="16.2" text-anchor="middle" font-weight="normal" fill="#111" stroke="#111">1</text>
<text x="339.00" y="830.20" font-size="16.2" text-anchor="middle" font-weight="normal" fill="#111" stroke="#111">2</text>
<text x="359.90" y="830.20" font-size="16.2" text-anchor="middle" font-weight="normal" fill="#111" stroke="#111">3</text>
<text x="380.00" y="830.20" font-size="16.2" text-anchor="middle" font-weight="normal" fill="#111" stroke="#111">4</text>
<text x="400.30" y="830.20" font-size="16.2" text-anchor="middle" font-weight="normal" fill="#111" stroke="#111">5</text>
<text x="234.20" y="852.80" font-size="16.8" text-anchor="start" font-weight="normal" fill="#111" stroke="#111">Number of afferents</text>
<text transform="translate(150.00,666.00) rotate(-90)" x="0" y="0" font-size="16.8" text-anchor="middle" fill="#111" stroke="#111">% of cells</text>
<path d="M242.7,535.2 V529.2 H361.8 V535.2" fill="none" stroke="#111" stroke-width="1.2"/>
<text x="302.00" y="529.40" font-size="20" text-anchor="middle" font-weight="normal" fill="#111" stroke="#111">***</text>
<text x="216.70" y="562.00" font-size="19.3" text-anchor="start" font-weight="normal" fill="#111" stroke="#111">1w-GH</text>
<text x="336.10" y="562.00" font-size="19.3" text-anchor="start" font-weight="normal" fill="#111" stroke="#111">1w-SI</text>
<line x1="463.50" y1="531.80" x2="463.50" y2="806.10" stroke="#111" stroke-width="1.1"/>
<line x1="458.00" y1="805.50" x2="463.40" y2="805.50" stroke="#111" stroke-width="1.1"/>
<text x="454.60" y="811.00" font-size="16.8" text-anchor="end" font-weight="normal" fill="#111" stroke="#111">0</text>
<line x1="458.00" y1="737.50" x2="463.40" y2="737.50" stroke="#111" stroke-width="1.1"/>
<text x="454.60" y="742.67" font-size="16.8" text-anchor="end" font-weight="normal" fill="#111" stroke="#111">2</text>
<line x1="458.00" y1="668.50" x2="463.40" y2="668.50" stroke="#111" stroke-width="1.1"/>
<text x="454.60" y="674.35" font-size="16.8" text-anchor="end" font-weight="normal" fill="#111" stroke="#111">4</text>
<line x1="458.00" y1="600.50" x2="463.40" y2="600.50" stroke="#111" stroke-width="1.1"/>
<text x="454.60" y="606.02" font-size="16.8" text-anchor="end" font-weight="normal" fill="#111" stroke="#111">6</text>
<line x1="458.00" y1="532.50" x2="463.40" y2="532.50" stroke="#111" stroke-width="1.1"/>
<text x="454.60" y="537.70" font-size="16.8" text-anchor="end" font-weight="normal" fill="#111" stroke="#111">8</text>
<line x1="460.00" y1="771.50" x2="463.40" y2="771.50" stroke="#111" stroke-width="1.1"/>
<line x1="460.00" y1="703.50" x2="463.40" y2="703.50" stroke="#111" stroke-width="1.1"/>
<line x1="460.00" y1="634.50" x2="463.40" y2="634.50" stroke="#111" stroke-width="1.1"/>
<line x1="460.00" y1="566.50" x2="463.40" y2="566.50" stroke="#111" stroke-width="1.1"/>
<line x1="458.20" y1="805.50" x2="571.60" y2="805.50" stroke="#111" stroke-width="1.1"/>
<line x1="575.80" y1="805.50" x2="683.50" y2="805.50" stroke="#111" stroke-width="1.1"/>
<line x1="492.50" y1="805.60" x2="492.50" y2="810.00" stroke="#111" stroke-width="1.1"/>
<line x1="543.50" y1="805.60" x2="543.50" y2="810.00" stroke="#111" stroke-width="1.1"/>
<line x1="604.50" y1="805.60" x2="604.50" y2="810.00" stroke="#111" stroke-width="1.1"/>
<line x1="655.50" y1="805.60" x2="655.50" y2="810.00" stroke="#111" stroke-width="1.1"/>
<text x="479.20" y="831.20" font-size="16.8" text-anchor="start" font-weight="normal" fill="#111" stroke="#111">GH</text>
<text x="537.80" y="831.20" font-size="16.8" text-anchor="start" font-weight="normal" fill="#111" stroke="#111">SI</text>
<text x="588.60" y="831.20" font-size="16.8" text-anchor="start" font-weight="normal" fill="#111" stroke="#111">GH</text>
<text x="648.10" y="831.20" font-size="16.8" text-anchor="start" font-weight="normal" fill="#111" stroke="#111">SI</text>
<text x="508.60" y="853.10" font-size="16.8" text-anchor="start" font-weight="normal" fill="#111" stroke="#111">SF</text>
<text x="615.30" y="853.10" font-size="16.8" text-anchor="start" font-weight="normal" fill="#111" stroke="#111">Max</text>
<text transform="translate(432.80,660.50) rotate(-90)" x="0" y="0" font-size="16.8" text-anchor="middle" fill="#111" stroke="#111">Amplitude (nA)</text>
<line x1="491.60" y1="529.50" x2="542.20" y2="529.50" stroke="#111" stroke-width="1.2"/>
<text x="517.00" y="529.20" font-size="20" text-anchor="middle" font-weight="normal" fill="#111" stroke="#111">***</text>
<line x1="604.00" y1="526.50" x2="655.80" y2="526.50" stroke="#111" stroke-width="1.2"/>
<text x="632.00" y="519.40" font-size="15" text-anchor="middle" font-weight="normal" fill="#111" stroke="#111">ns</text>
<rect x="471.50" y="738.70" width="41.20" height="66.90" fill="none" stroke="#111" stroke-width="1.4"/>
<rect x="522.40" y="768.20" width="41.60" height="37.40" fill="none" stroke="#111" stroke-width="1.4"/>
<rect x="583.40" y="717.30" width="41.40" height="88.30" fill="none" stroke="#111" stroke-width="1.4"/>
<rect x="634.90" y="725.40" width="40.60" height="80.20" fill="none" stroke="#111" stroke-width="1.4"/>
<circle cx="478.50" cy="672.30" r="3.3" fill="none" stroke="#e5288a" stroke-width="1.05"/>
<circle cx="478.50" cy="713.70" r="3.3" fill="none" stroke="#e5288a" stroke-width="1.05"/>
<circle cx="478.50" cy="717.30" r="3.3" fill="none" stroke="#e5288a" stroke-width="1.05"/>
<circle cx="478.50" cy="725.70" r="3.3" fill="none" stroke="#e5288a" stroke-width="1.05"/>
<circle cx="478.50" cy="730.50" r="3.3" fill="none" stroke="#e5288a" stroke-width="1.05"/>
<circle cx="478.50" cy="748.50" r="3.3" fill="none" stroke="#e5288a" stroke-width="1.05"/>
<circle cx="478.50" cy="753.70" r="3.3" fill="none" stroke="#e5288a" stroke-width="1.05"/>
<circle cx="478.50" cy="763.30" r="3.3" fill="none" stroke="#e5288a" stroke-width="1.05"/>
<circle cx="478.50" cy="778.90" r="3.3" fill="none" stroke="#e5288a" stroke-width="1.05"/>
<circle cx="478.50" cy="789.80" r="3.3" fill="none" stroke="#e5288a" stroke-width="1.05"/>
<circle cx="487.30" cy="629.50" r="3.3" fill="none" stroke="#3fa64e" stroke-width="1.05"/>
<circle cx="487.30" cy="638.40" r="3.3" fill="none" stroke="#3fa64e" stroke-width="1.05"/>
<circle cx="487.30" cy="653.80" r="3.3" fill="none" stroke="#3fa64e" stroke-width="1.05"/>
<circle cx="487.30" cy="707.20" r="3.3" fill="none" stroke="#3fa64e" stroke-width="1.05"/>
<circle cx="487.30" cy="711.20" r="3.3" fill="none" stroke="#3fa64e" stroke-width="1.05"/>
<circle cx="487.30" cy="721.30" r="3.3" fill="none" stroke="#3fa64e" stroke-width="1.05"/>
<circle cx="487.30" cy="732.50" r="3.3" fill="none" stroke="#3fa64e" stroke-width="1.05"/>
<circle cx="487.30" cy="739.40" r="3.3" fill="none" stroke="#3fa64e" stroke-width="1.05"/>
<circle cx="487.30" cy="746.60" r="3.3" fill="none" stroke="#3fa64e" stroke-width="1.05"/>
<circle cx="487.30" cy="752.50" r="3.3" fill="none" stroke="#3fa64e" stroke-width="1.05"/>
<circle cx="487.30" cy="758.00" r="3.3" fill="none" stroke="#3fa64e" stroke-width="1.05"/>
<circle cx="487.30" cy="776.90" r="3.3" fill="none" stroke="#3fa64e" stroke-width="1.05"/>
<circle cx="487.30" cy="780.90" r="3.3" fill="none" stroke="#3fa64e" stroke-width="1.05"/>
<circle cx="487.30" cy="786.50" r="3.3" fill="none" stroke="#3fa64e" stroke-width="1.05"/>
<circle cx="487.30" cy="791.40" r="3.3" fill="none" stroke="#3fa64e" stroke-width="1.05"/>
<circle cx="496.20" cy="614.60" r="3.3" fill="none" stroke="#2f3193" stroke-width="1.05"/>
<circle cx="496.20" cy="721.30" r="3.3" fill="none" stroke="#2f3193" stroke-width="1.05"/>
<circle cx="496.20" cy="728.90" r="3.3" fill="none" stroke="#2f3193" stroke-width="1.05"/>
<circle cx="496.20" cy="742.20" r="3.3" fill="none" stroke="#2f3193" stroke-width="1.05"/>
<circle cx="496.20" cy="746.60" r="3.3" fill="none" stroke="#2f3193" stroke-width="1.05"/>
<circle cx="496.20" cy="751.00" r="3.3" fill="none" stroke="#2f3193" stroke-width="1.05"/>
<circle cx="496.20" cy="754.50" r="3.3" fill="none" stroke="#2f3193" stroke-width="1.05"/>
<circle cx="496.20" cy="780.90" r="3.3" fill="none" stroke="#2f3193" stroke-width="1.05"/>
<circle cx="496.20" cy="783.30" r="3.3" fill="none" stroke="#2f3193" stroke-width="1.05"/>
<circle cx="505.10" cy="644.20" r="3.3" fill="none" stroke="#ee5a2a" stroke-width="1.05"/>
<circle cx="505.10" cy="669.90" r="3.3" fill="none" stroke="#ee5a2a" stroke-width="1.05"/>
<circle cx="505.10" cy="687.20" r="3.3" fill="none" stroke="#ee5a2a" stroke-width="1.05"/>
<circle cx="505.10" cy="713.70" r="3.3" fill="none" stroke="#ee5a2a" stroke-width="1.05"/>
<circle cx="505.10" cy="722.90" r="3.3" fill="none" stroke="#ee5a2a" stroke-width="1.05"/>
<circle cx="505.10" cy="728.90" r="3.3" fill="none" stroke="#ee5a2a" stroke-width="1.05"/>
<circle cx="505.10" cy="735.70" r="3.3" fill="none" stroke="#ee5a2a" stroke-width="1.05"/>
<circle cx="505.10" cy="738.60" r="3.3" fill="none" stroke="#ee5a2a" stroke-width="1.05"/>
<circle cx="505.10" cy="759.50" r="3.3" fill="none" stroke="#ee5a2a" stroke-width="1.05"/>
<circle cx="505.10" cy="762.00" r="3.3" fill="none" stroke="#ee5a2a" stroke-width="1.05"/>
<circle cx="505.10" cy="769.30" r="3.3" fill="none" stroke="#ee5a2a" stroke-width="1.05"/>
<circle cx="505.10" cy="776.50" r="3.3" fill="none" stroke="#ee5a2a" stroke-width="1.05"/>
<circle cx="505.10" cy="777.70" r="3.3" fill="none" stroke="#ee5a2a" stroke-width="1.05"/>
<circle cx="505.10" cy="786.50" r="3.3" fill="none" stroke="#ee5a2a" stroke-width="1.05"/>
<circle cx="505.10" cy="793.80" r="3.3" fill="none" stroke="#ee5a2a" stroke-width="1.05"/>
<circle cx="505.10" cy="795.00" r="3.3" fill="none" stroke="#ee5a2a" stroke-width="1.05"/>
<circle cx="530.80" cy="666.10" r="3.4" fill="#e5288a"/>
<circle cx="530.80" cy="680.60" r="3.4" fill="#e5288a"/>
<circle cx="530.80" cy="704.50" r="3.4" fill="#e5288a"/>
<circle cx="530.80" cy="736.20" r="3.4" fill="#e5288a"/>
<circle cx="530.80" cy="740.80" r="3.4" fill="#e5288a"/>
<circle cx="530.80" cy="743.82" r="3.4" fill="#e5288a"/>
<circle cx="530.80" cy="746.84" r="3.4" fill="#e5288a"/>
<circle cx="530.80" cy="749.86" r="3.4" fill="#e5288a"/>
<circle cx="530.80" cy="752.88" r="3.4" fill="#e5288a"/>
<circle cx="530.80" cy="755.90" r="3.4" fill="#e5288a"/>
<circle cx="530.80" cy="762.80" r="3.4" fill="#e5288a"/>
<circle cx="530.80" cy="765.90" r="3.4" fill="#e5288a"/>
<circle cx="530.80" cy="769.00" r="3.4" fill="#e5288a"/>
<circle cx="530.80" cy="772.10" r="3.4" fill="#e5288a"/>
<circle cx="530.80" cy="775.20" r="3.4" fill="#e5288a"/>
<circle cx="530.80" cy="778.30" r="3.4" fill="#e5288a"/>
<circle cx="530.80" cy="781.40" r="3.4" fill="#e5288a"/>
<circle cx="530.80" cy="784.50" r="3.4" fill="#e5288a"/>
<circle cx="530.80" cy="787.60" r="3.4" fill="#e5288a"/>
<circle cx="530.80" cy="790.60" r="3.4" fill="#e5288a"/>
<circle cx="530.80" cy="793.85" r="3.4" fill="#e5288a"/>
<circle cx="530.80" cy="797.10" r="3.4" fill="#e5288a"/>
<circle cx="530.80" cy="800.35" r="3.4" fill="#e5288a"/>
<circle cx="530.80" cy="803.60" r="3.4" fill="#e5288a"/>
<circle cx="542.50" cy="695.80" r="3.4" fill="#3fa64e"/>
<circle cx="542.50" cy="724.60" r="3.4" fill="#3fa64e"/>
<circle cx="542.50" cy="728.40" r="3.4" fill="#3fa64e"/>
<circle cx="542.50" cy="736.90" r="3.4" fill="#3fa64e"/>
<circle cx="542.50" cy="741.10" r="3.4" fill="#3fa64e"/>
<circle cx="542.50" cy="747.50" r="3.4" fill="#3fa64e"/>
<circle cx="542.50" cy="753.60" r="3.4" fill="#3fa64e"/>
<circle cx="542.50" cy="756.66" r="3.4" fill="#3fa64e"/>
<circle cx="542.50" cy="759.72" r="3.4" fill="#3fa64e"/>
<circle cx="542.50" cy="762.78" r="3.4" fill="#3fa64e"/>
<circle cx="542.50" cy="765.84" r="3.4" fill="#3fa64e"/>
<circle cx="542.50" cy="768.90" r="3.4" fill="#3fa64e"/>
<circle cx="542.50" cy="771.96" r="3.4" fill="#3fa64e"/>
<circle cx="542.50" cy="775.02" r="3.4" fill="#3fa64e"/>
<circle cx="542.50" cy="778.08" r="3.4" fill="#3fa64e"/>
<circle cx="542.50" cy="781.14" r="3.4" fill="#3fa64e"/>
<circle cx="542.50" cy="784.20" r="3.4" fill="#3fa64e"/>
<circle cx="542.50" cy="795.70" r="3.4" fill="#3fa64e"/>
<circle cx="542.50" cy="799.30" r="3.4" fill="#3fa64e"/>
<circle cx="554.10" cy="666.40" r="3.4" fill="#262585"/>
<circle cx="554.10" cy="699.90" r="3.4" fill="#262585"/>
<circle cx="554.10" cy="716.50" r="3.4" fill="#262585"/>
<circle cx="554.10" cy="739.00" r="3.4" fill="#262585"/>
<circle cx="554.10" cy="741.82" r="3.4" fill="#262585"/>
<circle cx="554.10" cy="744.63" r="3.4" fill="#262585"/>
<circle cx="554.10" cy="747.45" r="3.4" fill="#262585"/>
<circle cx="554.10" cy="750.27" r="3.4" fill="#262585"/>
<circle cx="554.10" cy="753.08" r="3.4" fill="#262585"/>
<circle cx="554.10" cy="755.90" r="3.4" fill="#262585"/>
<circle cx="554.10" cy="762.80" r="3.4" fill="#262585"/>
<circle cx="554.10" cy="765.85" r="3.4" fill="#262585"/>
<circle cx="554.10" cy="768.89" r="3.4" fill="#262585"/>
<circle cx="554.10" cy="771.94" r="3.4" fill="#262585"/>
<circle cx="554.10" cy="774.98" r="3.4" fill="#262585"/>
<circle cx="554.10" cy="778.03" r="3.4" fill="#262585"/>
<circle cx="554.10" cy="781.08" r="3.4" fill="#262585"/>
<circle cx="554.10" cy="784.12" r="3.4" fill="#262585"/>
<circle cx="554.10" cy="787.17" r="3.4" fill="#262585"/>
<circle cx="554.10" cy="790.22" r="3.4" fill="#262585"/>
<circle cx="554.10" cy="793.26" r="3.4" fill="#262585"/>
<circle cx="554.10" cy="796.31" r="3.4" fill="#262585"/>
<circle cx="554.10" cy="799.35" r="3.4" fill="#262585"/>
<circle cx="554.10" cy="802.40" r="3.4" fill="#262585"/>
<circle cx="590.50" cy="672.40" r="3.3" fill="none" stroke="#e5288a" stroke-width="1.05"/>
<circle cx="590.50" cy="704.70" r="3.3" fill="none" stroke="#e5288a" stroke-width="1.05"/>
<circle cx="590.50" cy="713.10" r="3.3" fill="none" stroke="#e5288a" stroke-width="1.05"/>
<circle cx="590.50" cy="717.30" r="3.3" fill="none" stroke="#e5288a" stroke-width="1.05"/>
<circle cx="590.50" cy="725.70" r="3.3" fill="none" stroke="#e5288a" stroke-width="1.05"/>
<circle cx="590.50" cy="747.50" r="3.3" fill="none" stroke="#e5288a" stroke-width="1.05"/>
<circle cx="590.50" cy="754.50" r="3.3" fill="none" stroke="#e5288a" stroke-width="1.05"/>
<circle cx="599.30" cy="629.70" r="3.3" fill="none" stroke="#3fa64e" stroke-width="1.05"/>
<circle cx="599.30" cy="638.30" r="3.3" fill="none" stroke="#3fa64e" stroke-width="1.05"/>
<circle cx="599.30" cy="653.70" r="3.3" fill="none" stroke="#3fa64e" stroke-width="1.05"/>
<circle cx="599.30" cy="692.80" r="3.3" fill="none" stroke="#3fa64e" stroke-width="1.05"/>
<circle cx="599.30" cy="707.50" r="3.3" fill="none" stroke="#3fa64e" stroke-width="1.05"/>
<circle cx="599.30" cy="710.30" r="3.3" fill="none" stroke="#3fa64e" stroke-width="1.05"/>
<circle cx="599.30" cy="713.10" r="3.3" fill="none" stroke="#3fa64e" stroke-width="1.05"/>
<circle cx="599.30" cy="733.50" r="3.3" fill="none" stroke="#3fa64e" stroke-width="1.05"/>
<circle cx="599.30" cy="739.10" r="3.3" fill="none" stroke="#3fa64e" stroke-width="1.05"/>
<circle cx="599.30" cy="743.30" r="3.3" fill="none" stroke="#3fa64e" stroke-width="1.05"/>
<circle cx="599.30" cy="746.10" r="3.3" fill="none" stroke="#3fa64e" stroke-width="1.05"/>
<circle cx="608.20" cy="614.50" r="3.3" fill="none" stroke="#2f3193" stroke-width="1.05"/>
<circle cx="608.20" cy="692.50" r="3.3" fill="none" stroke="#2f3193" stroke-width="1.05"/>
<circle cx="608.20" cy="706.80" r="3.3" fill="none" stroke="#2f3193" stroke-width="1.05"/>
<circle cx="608.20" cy="721.50" r="3.3" fill="none" stroke="#2f3193" stroke-width="1.05"/>
<circle cx="608.20" cy="742.60" r="3.3" fill="none" stroke="#2f3193" stroke-width="1.05"/>
<circle cx="608.20" cy="754.50" r="3.3" fill="none" stroke="#2f3193" stroke-width="1.05"/>
<circle cx="608.20" cy="758.00" r="3.3" fill="none" stroke="#2f3193" stroke-width="1.05"/>
<circle cx="617.10" cy="599.70" r="3.3" fill="none" stroke="#ee5a2a" stroke-width="1.05"/>
<circle cx="617.10" cy="669.80" r="3.3" fill="none" stroke="#ee5a2a" stroke-width="1.05"/>
<circle cx="617.10" cy="687.20" r="3.3" fill="none" stroke="#ee5a2a" stroke-width="1.05"/>
<circle cx="617.10" cy="713.80" r="3.3" fill="none" stroke="#ee5a2a" stroke-width="1.05"/>
<circle cx="617.10" cy="723.00" r="3.3" fill="none" stroke="#ee5a2a" stroke-width="1.05"/>
<circle cx="617.10" cy="728.60" r="3.3" fill="none" stroke="#ee5a2a" stroke-width="1.05"/>
<circle cx="617.10" cy="735.60" r="3.3" fill="none" stroke="#ee5a2a" stroke-width="1.05"/>
<circle cx="617.10" cy="738.40" r="3.3" fill="none" stroke="#ee5a2a" stroke-width="1.05"/>
<circle cx="617.10" cy="757.30" r="3.3" fill="none" stroke="#ee5a2a" stroke-width="1.05"/>
<circle cx="617.10" cy="760.80" r="3.3" fill="none" stroke="#ee5a2a" stroke-width="1.05"/>
<circle cx="617.10" cy="764.30" r="3.3" fill="none" stroke="#ee5a2a" stroke-width="1.05"/>
<circle cx="617.10" cy="775.50" r="3.3" fill="none" stroke="#ee5a2a" stroke-width="1.05"/>
<circle cx="617.10" cy="786.70" r="3.3" fill="none" stroke="#ee5a2a" stroke-width="1.05"/>
<circle cx="642.60" cy="666.00" r="3.4" fill="#e5288a"/>
<circle cx="642.60" cy="674.00" r="3.4" fill="#e5288a"/>
<circle cx="642.60" cy="680.50" r="3.4" fill="#e5288a"/>
<circle cx="642.60" cy="691.90" r="3.4" fill="#e5288a"/>
<circle cx="642.60" cy="696.80" r="3.4" fill="#e5288a"/>
<circle cx="642.60" cy="714.10" r="3.4" fill="#e5288a"/>
<circle cx="642.60" cy="719.50" r="3.4" fill="#e5288a"/>
<circle cx="642.60" cy="740.40" r="3.4" fill="#e5288a"/>
<circle cx="642.60" cy="743.90" r="3.4" fill="#e5288a"/>
<circle cx="642.60" cy="748.60" r="3.4" fill="#e5288a"/>
<circle cx="642.60" cy="753.90" r="3.4" fill="#e5288a"/>
<circle cx="642.60" cy="759.10" r="3.4" fill="#e5288a"/>
<circle cx="642.60" cy="769.10" r="3.4" fill="#e5288a"/>
<circle cx="642.60" cy="783.10" r="3.4" fill="#e5288a"/>
<circle cx="642.60" cy="789.50" r="3.4" fill="#e5288a"/>
<circle cx="642.60" cy="798.30" r="3.4" fill="#e5288a"/>
<circle cx="654.40" cy="649.50" r="3.4" fill="#3fa64e"/>
<circle cx="654.40" cy="685.30" r="3.4" fill="#3fa64e"/>
<circle cx="654.40" cy="696.00" r="3.4" fill="#3fa64e"/>
<circle cx="654.40" cy="717.00" r="3.4" fill="#3fa64e"/>
<circle cx="654.40" cy="728.10" r="3.4" fill="#3fa64e"/>
<circle cx="654.40" cy="733.40" r="3.4" fill="#3fa64e"/>
<circle cx="654.40" cy="738.10" r="3.4" fill="#3fa64e"/>
<circle cx="654.40" cy="741.00" r="3.4" fill="#3fa64e"/>
<circle cx="654.40" cy="751.50" r="3.4" fill="#3fa64e"/>
<circle cx="654.40" cy="755.00" r="3.4" fill="#3fa64e"/>
<circle cx="654.40" cy="759.70" r="3.4" fill="#3fa64e"/>
<circle cx="654.40" cy="770.80" r="3.4" fill="#3fa64e"/>
<circle cx="666.00" cy="641.10" r="3.4" fill="#262585"/>
<circle cx="666.00" cy="654.50" r="3.4" fill="#262585"/>
<circle cx="666.00" cy="684.20" r="3.4" fill="#262585"/>
<circle cx="666.00" cy="692.60" r="3.4" fill="#262585"/>
<circle cx="666.00" cy="699.80" r="3.4" fill="#262585"/>
<circle cx="666.00" cy="710.30" r="3.4" fill="#262585"/>
<circle cx="666.00" cy="716.40" r="3.4" fill="#262585"/>
<circle cx="666.00" cy="722.90" r="3.4" fill="#262585"/>
<circle cx="666.00" cy="735.10" r="3.4" fill="#262585"/>
<circle cx="666.00" cy="745.70" r="3.4" fill="#262585"/>
<circle cx="666.00" cy="755.60" r="3.4" fill="#262585"/>
<circle cx="666.00" cy="772.00" r="3.4" fill="#262585"/>
<line x1="475.35" y1="732.50" x2="508.85" y2="732.50" stroke="#111" stroke-width="1.4"/>
<line x1="475.35" y1="744.50" x2="508.85" y2="744.50" stroke="#111" stroke-width="1.4"/>
<line x1="492.50" y1="732.80" x2="492.50" y2="744.30" stroke="#111" stroke-width="1.4"/>
<line x1="526.35" y1="765.50" x2="560.05" y2="765.50" stroke="#111" stroke-width="1.4"/>
<line x1="526.35" y1="771.50" x2="560.05" y2="771.50" stroke="#111" stroke-width="1.4"/>
<line x1="543.50" y1="765.50" x2="543.50" y2="771.50" stroke="#111" stroke-width="1.4"/>
<line x1="587.15" y1="711.50" x2="620.85" y2="711.50" stroke="#111" stroke-width="1.4"/>
<line x1="587.15" y1="723.50" x2="620.85" y2="723.50" stroke="#111" stroke-width="1.4"/>
<line x1="604.50" y1="711.00" x2="604.50" y2="723.60" stroke="#111" stroke-width="1.4"/>
<line x1="638.25" y1="719.50" x2="672.15" y2="719.50" stroke="#111" stroke-width="1.4"/>
<line x1="638.25" y1="731.50" x2="672.15" y2="731.50" stroke="#111" stroke-width="1.4"/>
<line x1="655.50" y1="719.90" x2="655.50" y2="731.10" stroke="#111" stroke-width="1.4"/>
</svg>
</body></html>
